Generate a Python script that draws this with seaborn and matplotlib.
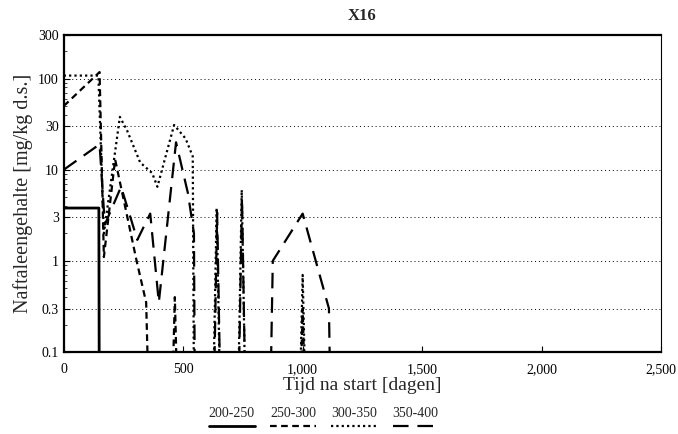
import matplotlib
matplotlib.use('Agg')
import matplotlib.pyplot as plt
from matplotlib.offsetbox import VPacker
import seaborn as sns
import pandas as pd
import numpy as np

# values below the axis (not detected) are given as 0.001 so the line drops out of view
ND = 0.001

days_200 = [0, 147, 150]
vals_200 = [3.8, 3.8, ND]

days_250 = [0, 150, 168, 215, 305, 345, 370, 440, 465, 490, 975, 1000, 1025]
vals_250 = [50, 118, 1.1, 13, 1.0, 0.35, ND, ND, 0.4, ND, ND, 0.3, ND]

days_300 = [0, 145, 168, 235, 265, 320, 370, 392, 462, 510, 540, 548,
            615, 640, 665, 720, 745, 770, 975, 1000, 1025]
vals_300 = [108, 108, 2.0, 38, 27, 12, 9.2, 6.5, 31, 22, 14, ND,
            ND, 3.8, ND, ND, 6.0, ND, ND, 0.7, ND]

days_350 = [0, 150, 172, 240, 308, 362, 398, 470, 520, 545, 552,
            618, 642, 666, 722, 746, 770, 855, 875, 1000, 1110, 1125]
vals_350 = [10, 19, 2.5, 6.5, 1.7, 3.3, 0.35, 20, 5.5, 2.0, ND,
            ND, 3.4, ND, ND, 5.0, ND, ND, 1.0, 3.3, 0.3, ND]

series = ['200-250', '250-300', '300-350', '350-400']
y_ticks = [0.1, 0.3, 1, 3, 10, 30, 100, 300]
y_labels = ['0.1', '0.3', '1', '3', '10', '30', '100', '300']
x_ticks = [0, 500, 1000, 1500, 2000, 2500]
x_labels = ['0', '500', '1,000', '1,500', '2,000', '2,500']

df = pd.concat([
    pd.DataFrame({'dag': days_200, 'gehalte': vals_200, 'serie': series[0]}),
    pd.DataFrame({'dag': days_250, 'gehalte': vals_250, 'serie': series[1]}),
    pd.DataFrame({'dag': days_300, 'gehalte': vals_300, 'serie': series[2]}),
    pd.DataFrame({'dag': days_350, 'gehalte': vals_350, 'serie': series[3]}),
])

sns.set_style('ticks')
plt.rcParams['font.family'] = ['Liberation Serif', 'DejaVu Serif']

fig = plt.figure(figsize=(6.78, 4.34), dpi=100)
ax = fig.add_axes([0.094, 0.189, 0.881, 0.730])

dashes = {'200-250': '', '250-300': (3, 2), '300-350': (1, 1.4), '350-400': (7, 4)}
sns.lineplot(data=df, x='dag', y='gehalte', style='serie', style_order=series,
             dashes=dashes, color='black', estimator=None, sort=False,
             linewidth=1.6, ax=ax)
ax.lines[0].set_linewidth(2.0)

ax.set_yscale('log')
ax.set_ylim(0.1, 300)
ax.set_xlim(0, 2500)
ax.set_yticks(y_ticks)
ax.set_yticklabels(y_labels)
ax.set_xticks(x_ticks)
ax.set_xticklabels(x_labels)
ax.tick_params(direction='in', labelsize=10, length=4, colors='black')
ax.tick_params(axis='y', which='minor', direction='in', length=2)
ax.tick_params(axis='x', pad=8)
ax.yaxis.grid(True, which='major', linestyle=(0, (1, 3)), color='black', linewidth=0.7)

for s in ax.spines.values():
    s.set_linewidth(1.6)
    s.set_color('black')
ax.spines['right'].set_linewidth(0.8)

ax.set_title('X16', fontsize=12, fontweight='bold', pad=11)
ax.set_xlabel('Tijd na start [dagen]', fontsize=14, labelpad=1)
ax.set_ylabel('Naftaleengehalte [mg/kg d.s.]', fontsize=14.5, labelpad=4)

sns.move_legend(ax, 'upper center', bbox_to_anchor=(0.435, -0.135), ncol=4,
                title=None, frameon=False, fontsize=10, handlelength=3.3,
                columnspacing=1.1, handletextpad=0.2)
leg = ax.get_legend()
for col in leg._legend_handle_box.get_children():
    for item in col.get_children():
        item.__class__ = VPacker
        item._children = item._children[::-1]
        item.align = 'center'
        item.sep = 1
for h in leg.legend_handles:
    h.set_color('black')
leg.legend_handles[0].set_linewidth(2.0)

fig.savefig('out.png', dpi=100)
